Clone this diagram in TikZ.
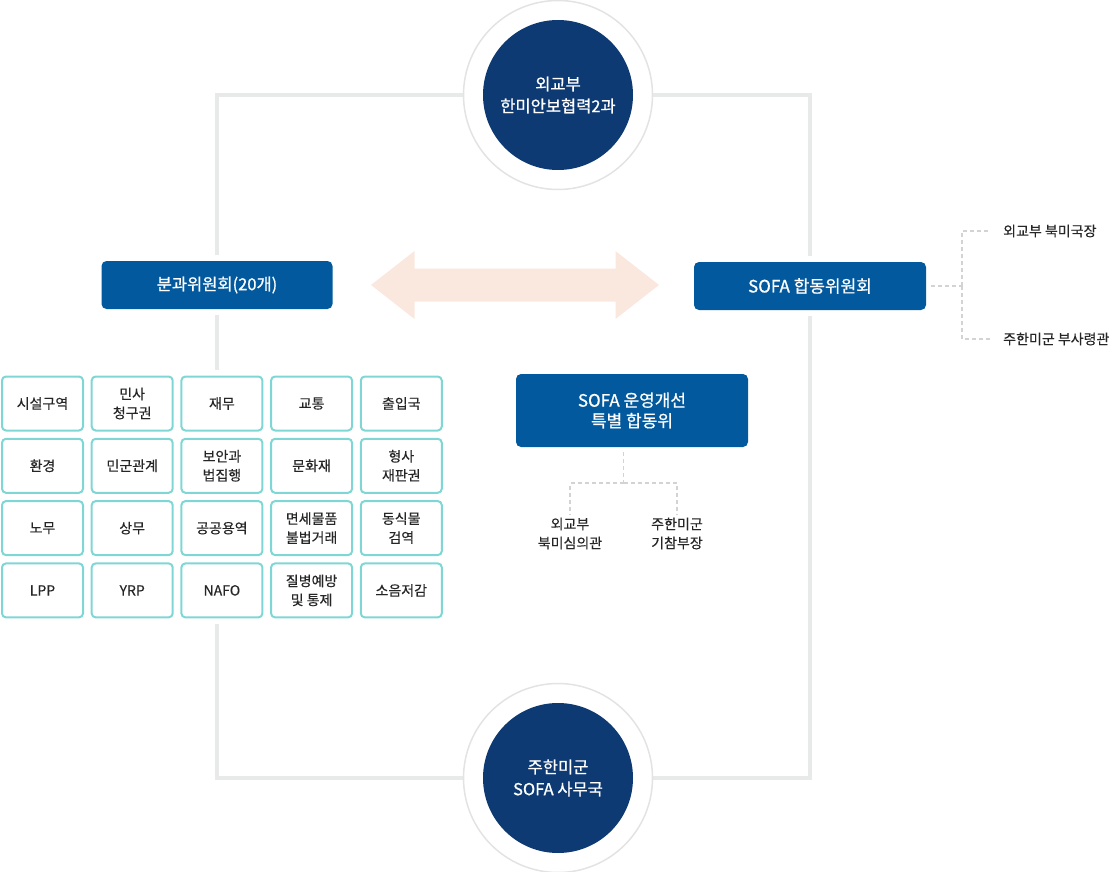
\documentclass[tikz,border=0pt]{standalone}
\usepackage{fontspec}
\setmainfont{Noto Sans CJK KR}[FakeBold=0.3]
\newfontfamily\medfont{Noto Sans CJK KR}[FakeBold=0.8]
\usetikzlibrary{backgrounds}
\definecolor{navy}{HTML}{0E3A73}
\definecolor{boxblue}{HTML}{03599D}
\definecolor{cellteal}{HTML}{7FD7D5}
\definecolor{framegray}{HTML}{E8EAEA}
\definecolor{ringgray}{HTML}{E3E3E3}
\definecolor{dashgray}{HTML}{D3D3D3}
\definecolor{peach}{HTML}{FAE8DE}
\definecolor{txt}{HTML}{262626}
\begin{document}
\begin{tikzpicture}[x=1pt,y=-1pt,
 ring/.style={circle,draw=ringgray,line width=1.5pt,fill=white,minimum size=189pt,inner sep=0},
 core/.style={circle,fill=navy,minimum size=150pt,inner sep=0,text=white,align=center,font=\medfont\fontsize{16.5}{22}\selectfont},
 bluebox/.style={rectangle,rounded corners=5pt,fill=boxblue,text=white,align=center,inner sep=0,font=\medfont\fontsize{17}{20.5}\selectfont},
 cell/.style={rectangle,rounded corners=4pt,draw=cellteal,line width=2pt,fill=white,minimum width=81pt,minimum height=54pt,inner sep=0,align=center,text=txt,font=\fontsize{14}{19}\selectfont},
 frameline/.style={draw=framegray,line width=4pt},
 dsh/.style={draw=dashgray,line width=1.5pt,dash pattern=on 4pt off 3pt},
 lbl/.style={text=txt,inner sep=0,align=center,font=\fontsize{14}{19}\selectfont}
]
\useasboundingbox (0,0) rectangle (1112,872);

% circles
\node[ring] (topr) at (558,95) {};
\node[core] (topc) at (558,95) {외교부\\한미안보협력2과};
\node[ring] (botr) at (558,778) {};
\node[core] (botc) at (558,778) {주한미군\\SOFA 사무국};

% blue boxes
\node[bluebox,minimum width=231pt,minimum height=48pt,font=\medfont\fontsize{16.5}{20}\selectfont] (lbox) at (217,285) {분과위원회(20개)};
\node[bluebox,minimum width=232pt,minimum height=48pt] (rbox) at (810,286) {SOFA 합동위원회};
\node[bluebox,minimum width=232pt,minimum height=73pt] (mbox) at (632,410.5) {SOFA 운영개선\\특별 합동위};

% double arrow
\fill[peach] (371,285) -- (414.5,251) -- (414.5,268.5) -- (615.5,268.5) -- (615.5,251)
  -- (659,285) -- (615.5,319) -- (615.5,301.5) -- (414.5,301.5) -- (414.5,319) -- cycle;

% grid
\node[cell] (g11) at (42.5,403.5) {시설구역};
\node[cell] (g12) at (132.2,403.5) {민사\\청구권};
\node[cell] (g13) at (221.9,403.5) {재무};
\node[cell] (g14) at (311.6,403.5) {교통};
\node[cell] (g15) at (401.3,403.5) {출입국};
\node[cell] (g21) at (42.5,465.8) {환경};
\node[cell] (g22) at (132.2,465.8) {민군관계};
\node[cell] (g23) at (221.9,465.8) {보안과\\법집행};
\node[cell] (g24) at (311.6,465.8) {문화재};
\node[cell] (g25) at (401.3,465.8) {형사\\재판권};
\node[cell] (g31) at (42.5,528.1) {노무};
\node[cell] (g32) at (132.2,528.1) {상무};
\node[cell] (g33) at (221.9,528.1) {공공용역};
\node[cell] (g34) at (311.6,528.1) {면세물품\\불법거래};
\node[cell] (g35) at (401.3,528.1) {동식물\\검역};
\node[cell] (g41) at (42.5,590.4) {LPP};
\node[cell] (g42) at (132.2,590.4) {YRP};
\node[cell] (g43) at (221.9,590.4) {NAFO};
\node[cell] (g44) at (311.6,590.4) {질병예방\\및 통제};
\node[cell] (g45) at (401.3,590.4) {소음저감};

% frame connectors
\begin{scope}[on background layer]
\draw[frameline] (topc.center) -| ([yshift=6pt]lbox.north);
\draw[frameline] ([yshift=-6pt]lbox.south) -- ([yshift=6pt]lbox.south |- g13.north);
\draw[frameline] ([yshift=-6pt]lbox.south |- g43.south) |- (botc.center);
\draw[frameline] (botc.center) -| ([yshift=-6pt]rbox.south);
\draw[frameline] ([yshift=6pt]rbox.north) |- (topc.center);
\end{scope}

% right side labels
\node[lbl,anchor=west] (t1) at (1003,231) {외교부 북미국장};
\node[lbl,anchor=west] (t2) at (1003,339) {주한미군 부사령관};
\coordinate (rj) at (962,286);
\draw[dsh,shorten <=5pt] (rbox.east) -- (rj);
\draw[dsh] (rj) |- ([xshift=-13pt]t1.west);
\draw[dsh] (rj) |- ([xshift=-13pt]t2.west);

% middle labels
\node[lbl] (ma) at (570,533.5) {외교부\\북미심의관};
\node[lbl] (mb) at (677,533.5) {주한미군\\기참부장};
\coordinate (mj) at (623.5,483);
\draw[dsh,shorten <=5pt] (mbox.south -| mj) -- (mj);
\draw[dsh,shorten >=3pt] (mj) -| (ma.north);
\draw[dsh,shorten >=3pt] (mj) -| (mb.north);
\end{tikzpicture}
\end{document}
